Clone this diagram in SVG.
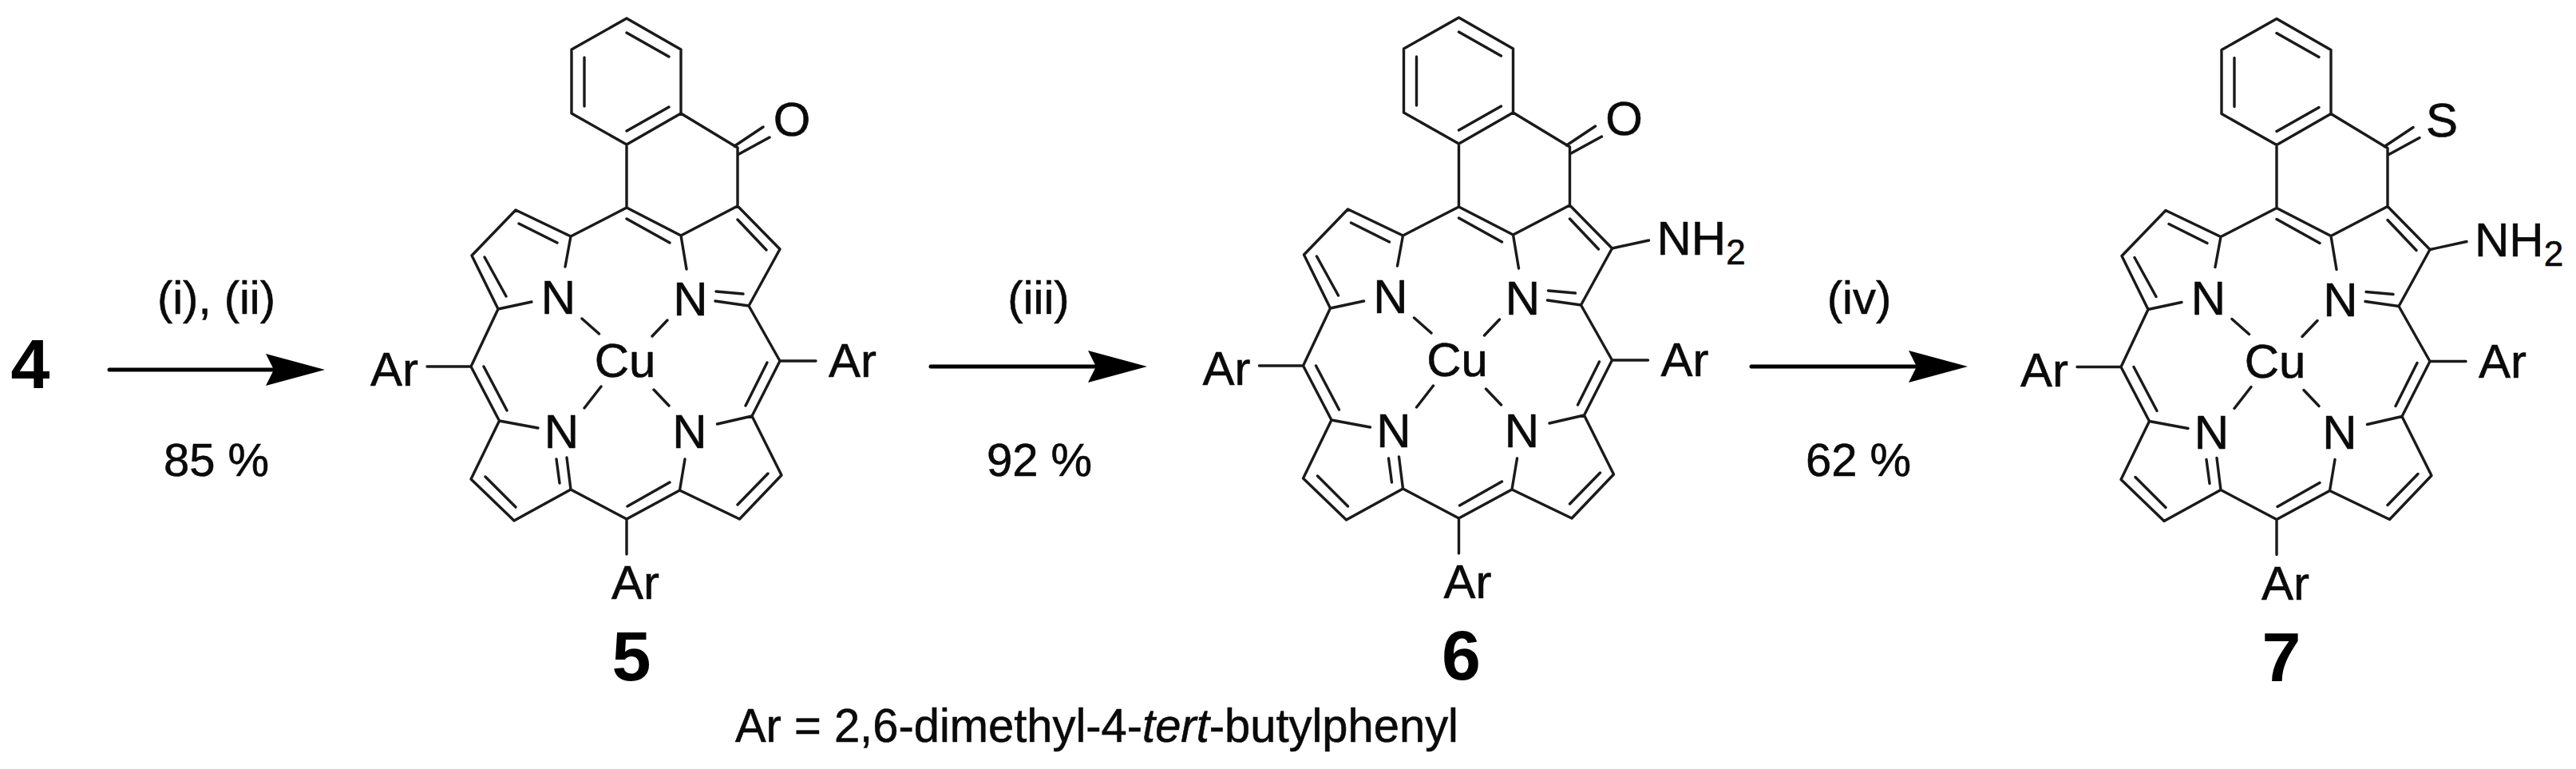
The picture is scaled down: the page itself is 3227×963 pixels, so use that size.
<svg xmlns="http://www.w3.org/2000/svg" xmlns:xlink="http://www.w3.org/1999/xlink" width="3227" height="963" viewBox="0 0 3227 963">
<style>
text{font-family:"Liberation Sans",Arial,sans-serif;fill:#0a0a0a;stroke:#0a0a0a;stroke-width:.6}
.a{font-size:60px;text-anchor:middle}
.s{font-size:60px}
.c{font-size:58px;text-anchor:middle}
.b{font-size:88px;font-weight:700;text-anchor:middle;fill:#000;stroke:none}
.bond{fill:none;stroke:#1a1a1a;stroke-width:3.4;stroke-linecap:round;stroke-linejoin:round}
.shaft{stroke:#000;stroke-width:5;fill:none;stroke-linecap:round}
</style>
<defs>
<marker id="h" markerUnits="userSpaceOnUse" markerWidth="80" markerHeight="44" refX="34" refY="20" orient="auto" overflow="visible"><path d="M74 20 L0 0 L10 20 L0 40Z" fill="#000"/></marker>
<path id="sk" class="bond" d="M785 23L716 62V142L785 181L853 142V62Z M732 72V133 M785 41L838 71 M785 164L838 134 M853 142L924 185V258 M785 181V260 M920 183L956 159 M925.500 193L964 172 M715 296L785 260L853 295L924 258L977 312L938 383L896 377 M785 274L839 304 M924 275L960 313 M931 368L897 365 M853 295L860 337 M715 296L646 263L591 320L624 387L666 378 M698 304L650 280 M607 322L634 371 M715 296L708 334 M729 399L750.500 418 M836 401L817 421 M624 387L590 459L625.500 527L674 536 M590 459H535 M606 459L635 514 M938 383L977 452L942 521L898.500 531 M977 452H1022 M961 454L934 508 M625.500 527L590 600L644 652L715 613L710 573 M608 597L646 635 M701 605L697 575 M715 613L785 650L851.500 614L858 575 M786 634L839 604 M851.500 614L926.500 650L979 595L942 521 M924 632L962 593 M785 650V694 M753 484L732 511 M819 488L838 508"/>
</defs>
<rect width="3227" height="963" fill="#fff"/>
<g id="connectors">
<path class="shaft" marker-end="url(#h)" d="M137 463H367"/>
<path class="shaft" marker-end="url(#h)" d="M1166 459H1397"/>
<path class="shaft" marker-end="url(#h)" d="M2194 459H2425"/>
</g>
<g id="compound-4"><text class="b" x="38" y="486">4</text></g>
<g id="step-1"><text class="c" x="271" y="393">(i), (ii)</text><text class="c" x="271" y="596">85 %</text></g>
<g id="step-2"><text class="c" x="1301" y="393">(iii)</text><text class="c" x="1302" y="596">92 %</text></g>
<g id="step-3"><text class="c" x="2329" y="393">(iv)</text><text class="c" x="2328" y="596">62 %</text></g>
<g id="compound-5">
<use href="#sk"/>
<text class="a" x="992" y="170">O</text>
<text class="a" x="699.500" y="393">N</text><text class="a" x="865" y="395">N</text><text class="a" x="703.500" y="561">N</text><text class="a" x="864" y="561">N</text>
<text class="a" x="783" y="472">Cu</text>
<text class="s" x="464" y="483">Ar</text><text class="s" x="1038" y="472">Ar</text><text class="s" x="766" y="750">Ar</text>
<text class="b" x="791" y="852">5</text>
</g>
<g id="compound-6" transform="translate(1042.500 -1)">
<use href="#sk"/>
<path class="bond" d="M977 312L1023 302"/>
<text class="a" x="992" y="170">O</text>
<text class="a" x="699.500" y="393">N</text><text class="a" x="865" y="395">N</text><text class="a" x="703.500" y="561">N</text><text class="a" x="864" y="561">N</text>
<text class="a" x="783" y="472">Cu</text>
<text class="s" x="464" y="483">Ar</text><text class="s" x="1038" y="472">Ar</text><text class="s" x="766" y="750">Ar</text>
<text class="s" x="1033" y="320">NH<tspan font-size="44" dy="12">2</tspan></text>
<text class="b" x="788" y="852">6</text>
</g>
<g id="compound-7" transform="translate(2067 0.500)">
<use href="#sk"/>
<path class="bond" d="M977 312L1023 302"/>
<text class="a" x="992" y="170">S</text>
<text class="a" x="699.500" y="393">N</text><text class="a" x="865" y="395">N</text><text class="a" x="703.500" y="561">N</text><text class="a" x="864" y="561">N</text>
<text class="a" x="783" y="472">Cu</text>
<text class="s" x="464" y="483">Ar</text><text class="s" x="1038" y="472">Ar</text><text class="s" x="766" y="750">Ar</text>
<text class="s" x="1033" y="320">NH<tspan font-size="44" dy="12">2</tspan></text>
<text class="b" x="791" y="852">7</text>
</g>
<g id="note"><text class="s" x="921" y="929" textLength="906" lengthAdjust="spacingAndGlyphs">Ar = 2,6-dimethyl-4-<tspan font-style="italic">tert</tspan>-butylphenyl</text></g>
</svg>
